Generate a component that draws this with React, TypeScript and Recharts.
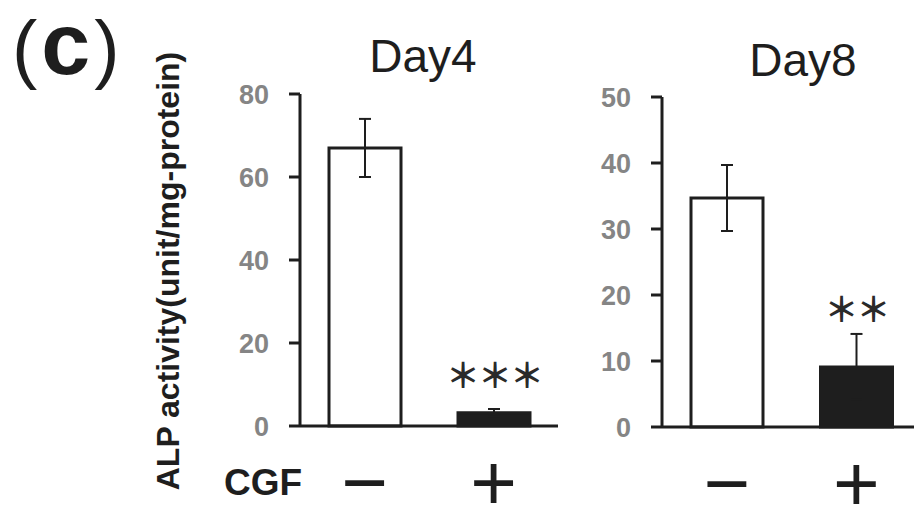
import { BarChart, Bar, XAxis, YAxis, ErrorBar, Cell, LabelList } from 'recharts';

// groups on the x axis (CGF − / +)
const groups = ['−', '+'];

// Day 4 values
const day4Mean = [67, 3.2];
const day4Sd = [7, 0.9];
const day4Sig = ['', '＊＊＊'];
const day4Ticks = [0, 20, 40, 60, 80];

// Day 8 values
const day8Mean = [34.7, 9.1];
const day8Sd = [5, 5];
const day8Sig = ['', '＊＊'];
const day8Ticks = [0, 10, 20, 30, 40, 50];

const ink = '#1e1e1e';
const barFills = ['#ffffff', ink];

type Row = { group: string; mean: number; sd: number; sig: string };

function makeRows(mean: number[], sd: number[], sig: string[]): Row[] {
  return groups.map((g, i) => ({ group: g, mean: mean[i], sd: sd[i], sig: sig[i] }));
}

const GroupTick = (props: any) => {
  const { x, y, payload } = props;
  return (
    <text x={x} y={y + 84} textAnchor="middle" fontSize={80} fontFamily="Liberation Sans, Arial, sans-serif" fill={ink}>
      {payload.value}
    </text>
  );
};

interface PanelProps {
  rows: Row[];
  ticks: number[];
  left: number;
  width: number;
  marginLeft: number;
  marginRight: number;
  marginTop: number;
  axisHeight: number;
  starGap: number;
}

function Panel({ rows, ticks, left, width, marginLeft, marginRight, marginTop, axisHeight, starGap }: PanelProps) {
  const renderStars = (p: any) => {
    if (!p.value) return null;
    return (
      <text
        x={p.x + p.width / 2}
        y={p.y - starGap}
        textAnchor="middle"
        fontSize={34}
        fontWeight={700}
        fontFamily="Noto Sans CJK JP, sans-serif"
        letterSpacing={-2}
        fill="#2a2a2a"
      >
        {p.value}
      </text>
    );
  };

  return (
    <div style={{ position: 'absolute', left, top: 0 }}>
      <BarChart
        width={width}
        height={506}
        data={rows}
        margin={{ top: marginTop, right: marginRight, bottom: 0, left: marginLeft }}
        barCategoryGap={0}
      >
        <XAxis
          dataKey="group"
          height={axisHeight}
          axisLine={{ stroke: ink, strokeWidth: 3 }}
          tickLine={false}
          tickSize={0}
          tickMargin={0}
          tick={<GroupTick />}
          interval={0}
        />
        <YAxis
          width={60}
          domain={[0, ticks[ticks.length - 1]]}
          ticks={ticks}
          interval={0}
          axisLine={{ stroke: ink, strokeWidth: 3 }}
          tickLine={{ stroke: ink, strokeWidth: 3 }}
          tickSize={11}
          tickMargin={20}
          tick={{ fill: '#858585', fontSize: 27, fontWeight: 700, fontFamily: 'Liberation Sans, Arial, sans-serif' }}
        />
        <Bar dataKey="mean" barSize={72} stroke={ink} strokeWidth={3} isAnimationActive={false}>
          {rows.map((r, i) => (
            <Cell key={r.group} fill={barFills[i]} />
          ))}
          <ErrorBar dataKey="sd" width={6} stroke={ink} strokeWidth={2} direction="y" isAnimationActive={false} />
          <LabelList dataKey="sig" content={renderStars} />
        </Bar>
      </BarChart>
    </div>
  );
}

export default function App() {
  const day4 = makeRows(day4Mean, day4Sd, day4Sig);
  const day8 = makeRows(day8Mean, day8Sd, day8Sig);
  const font = 'Liberation Sans, Arial, sans-serif';

  return (
    <div style={{ position: 'absolute', left: 0, top: 0, width: 914, height: 506, overflow: 'hidden', background: '#fff' }}>
      <Panel rows={day4} ticks={day4Ticks} left={0} width={570} marginLeft={240} marginRight={12} marginTop={94} axisHeight={80} starGap={25} />
      <Panel rows={day8} ticks={day8Ticks} left={570} width={360} marginLeft={32} marginRight={9} marginTop={97} axisHeight={79} starGap={45} />
      <svg width={914} height={506} style={{ position: 'absolute', left: 0, top: 0, pointerEvents: 'none' }}>
        <text x={12} y={74} fontFamily={font} fill={ink}>
          <tspan fontSize={76}>(</tspan>
          <tspan fontSize={88} fontWeight={700} dx={4}>c</tspan>
          <tspan fontSize={76} dx={4}>)</tspan>
        </text>
        <text x={423} y={72} textAnchor="middle" fontSize={46} fontFamily={font} fill={ink}>Day4</text>
        <text x={803} y={76} textAnchor="middle" fontSize={46} fontFamily={font} fill={ink}>Day8</text>
        <text
          x={0}
          y={0}
          transform="translate(179 271) rotate(-90)"
          textAnchor="middle"
          fontSize={32}
          fontWeight={700}
          fontFamily={font}
          fill={ink}
        >
          ALP activity(unit/mg-protein)
        </text>
        <text x={224} y={495} fontSize={37} fontWeight={700} fontFamily={font} fill={ink}>CGF</text>
      </svg>
    </div>
  );
}
